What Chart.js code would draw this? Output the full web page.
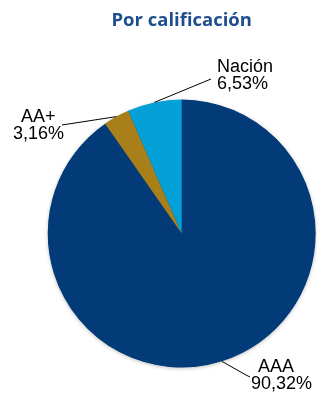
<!DOCTYPE html>
<html>
<head>
<meta charset="utf-8">
<script src="https://cdn.jsdelivr.net/npm/chart.js@4.4.1/dist/chart.umd.min.js"></script>
<style>
  html, body { margin: 0; padding: 0; background: #ffffff; }
  #wrap { width: 317px; height: 395px; position: relative; }
</style>
</head>
<body>
<div id="wrap"><canvas id="c" width="317" height="395"></canvas></div>
<script>
// ---- data ----
const titleText = "Por calificación";
const categories = ["AAA", "AA+", "Nación"];
const shares = [90.32, 3.16, 6.53];
const sliceColors = ["#033b79", "#a87f18", "#03a1d8"];

// ---- label layout (line x positions and baselines, leader line end) ----
const labelLayout = [
  { lines: [[258, 372], [251, 389]], end: [[246, 375], [250, 377]] },
  { lines: [[21, 122], [13, 139]], end: [[62, 125]] },
  { lines: [[217, 72], [217, 89]], end: [[211, 79]] }
];

function fmt(v) { return v.toFixed(2).replace('.', ',') + '%'; }

const labelPlugin = {
  id: 'pieLabels',
  beforeDatasetsDraw(chart) {
    const ctx = chart.ctx;
    const meta = chart.getDatasetMeta(0);
    if (!meta.data.length) return;
    const p = meta.data[0].getProps(['x', 'y', 'outerRadius'], true);
    ctx.save();
    ctx.shadowColor = 'rgba(0,0,0,0.3)';
    ctx.shadowBlur = 4;
    ctx.shadowOffsetX = 0;
    ctx.shadowOffsetY = 1;
    ctx.fillStyle = sliceColors[0];
    ctx.beginPath();
    ctx.arc(p.x, p.y, p.outerRadius - 0.5, 0, Math.PI * 2);
    ctx.fill();
    ctx.restore();
  },
  afterDatasetsDraw(chart) {
    const ctx = chart.ctx;
    const meta = chart.getDatasetMeta(0);
    ctx.save();
    meta.data.forEach((arc, i) => {
      const p = arc.getProps(['x', 'y', 'startAngle', 'endAngle', 'outerRadius'], true);
      const mid = (p.startAngle + p.endAngle) / 2;
      const ex = p.x + Math.cos(mid) * p.outerRadius;
      const ey = p.y + Math.sin(mid) * p.outerRadius;
      const lay = labelLayout[i];
      ctx.strokeStyle = '#000000';
      ctx.lineWidth = 1;
      ctx.beginPath();
      ctx.moveTo(ex, ey);
      lay.end.forEach(pt => ctx.lineTo(pt[0], pt[1]));
      ctx.stroke();
      ctx.fillStyle = '#000000';
      ctx.font = '18px "Liberation Sans", Arial, sans-serif';
      ctx.textAlign = 'left';
      ctx.textBaseline = 'alphabetic';
      const texts = [categories[i], fmt(shares[i])];
      texts.forEach((t, k) => ctx.fillText(t, lay.lines[k][0], lay.lines[k][1]));
    });
    ctx.restore();
  }
};

new Chart(document.getElementById('c'), {
  type: 'pie',
  data: {
    labels: categories,
    datasets: [{
      data: shares,
      backgroundColor: sliceColors,
      borderWidth: 0
    }]
  },
  options: {
    responsive: false,
    animation: false,
    layout: { padding: { left: 47.7, right: 1.3, top: 0, bottom: 27.5 } },
    plugins: {
      legend: { display: false },
      tooltip: { enabled: false },
      title: {
        display: true,
        text: titleText,
        color: '#1f4e8e',
        font: { family: '"Open Sans", sans-serif', size: 18.5, weight: 'bold', lineHeight: 1.2 },
        padding: { top: 9.5, bottom: 67.9 }
      }
    }
  },
  plugins: [labelPlugin]
});
</script>
</body>
</html>
